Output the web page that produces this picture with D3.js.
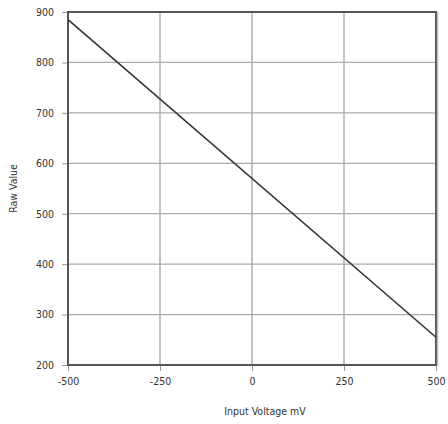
<!DOCTYPE html>
<html><head><meta charset="utf-8">
<script src="https://cdn.jsdelivr.net/npm/d3@7"></script>
<style>body{margin:0;background:#fff}svg{display:block}</style>
</head><body>
<script>
const xValues = [-500, 500];
const yValues = [885, 255];
const xTicks = [-500, -250, 0, 250, 500];
const yTicks = [200, 300, 400, 500, 600, 700, 800, 900];
const xLabel = "Input Voltage mV";
const yLabel = "Raw Value";

const W = 448, H = 424;
const m = {l: 68, r: 12, t: 12, b: 59};
const svg = d3.select("body").append("svg").attr("width", W).attr("height", H);
const font = "'Liberation Sans Narrow','Arial Narrow','DejaVu Sans Condensed','Liberation Sans',sans-serif";
const x = d3.scaleLinear().domain([-500, 500]).range([m.l, W - m.r]);
const y = d3.scaleLinear().domain([200, 900]).range([H - m.b, m.t]);

// grid
svg.append("g").selectAll("line").data(xTicks).join("line")
  .attr("x1", d => x(d)).attr("x2", d => x(d)).attr("y1", y(900)).attr("y2", y(200))
  .attr("stroke", "#999").attr("stroke-width", 1.2);
svg.append("g").selectAll("line").data(yTicks).join("line")
  .attr("y1", d => y(d)).attr("y2", d => y(d)).attr("x1", x(-500)).attr("x2", x(500))
  .attr("stroke", "#aaa").attr("stroke-width", 1.2);

// axes
const xa = svg.append("g").attr("transform", `translate(0,${y(200)})`)
  .call(d3.axisBottom(x).tickValues(xTicks).tickSize(6).tickPadding(7).tickFormat(d => String(d)));
const ya = svg.append("g").attr("transform", `translate(${x(-500)},0)`)
  .call(d3.axisLeft(y).tickValues(yTicks).tickSize(6).tickPadding(8).tickFormat(d => String(d)));
[xa, ya].forEach(a => {
  a.select(".domain").remove();
  a.selectAll(".tick line").attr("stroke", "#999");
  a.selectAll("text").attr("font-family", font).attr("font-size", 10.5).attr("fill", "#333");
});

// frame
svg.append("rect").attr("x", x(-500)).attr("y", y(900))
  .attr("width", x(500) - x(-500)).attr("height", y(200) - y(900))
  .attr("fill", "none").attr("stroke", "#555").attr("stroke-width", 2);
svg.append("line").attr("x1", x(500) + 1.5).attr("x2", x(500) + 1.5).attr("y1", y(900)).attr("y2", y(200) + 1)
  .attr("stroke", "#bbb").attr("stroke-width", 1.5);

// data line
svg.append("path").datum(xValues.map((v, i) => [v, yValues[i]]))
  .attr("d", d3.line().x(d => x(d[0])).y(d => y(d[1])))
  .attr("fill", "none").attr("stroke", "#333").attr("stroke-width", 1.6);

// labels
svg.append("text").attr("x", 265).attr("y", 415).attr("text-anchor", "middle")
  .attr("font-family", font).attr("font-size", 10.5).attr("fill", "#333").text(xLabel);
svg.append("text").attr("transform", `translate(17,${(y(200) + y(900)) / 2}) rotate(-90)`)
  .attr("text-anchor", "middle").attr("font-family", font).attr("font-size", 10.5).attr("fill", "#333").text(yLabel);
</script>
</body></html>
